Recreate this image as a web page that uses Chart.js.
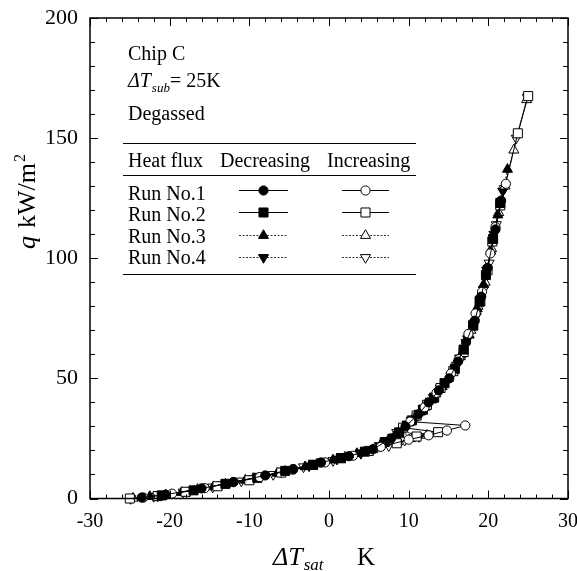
<!DOCTYPE html>
<html><head><meta charset="utf-8">
<script src="https://cdn.jsdelivr.net/npm/chart.js@4/dist/chart.umd.min.js"></script>
<style>html,body{margin:0;padding:0;background:#fff;}canvas{display:block;}</style>
</head><body>
<canvas id="c" width="577" height="571"></canvas>
<script>
// ---- tick labels ----
const xMajorTicks = [-30, -20, -10, 0, 10, 20, 30];
const yMajorTicks = [0, 50, 100, 150, 200];

// ---- series names ----
const runNames = ['Run No.1', 'Run No.2', 'Run No.3', 'Run No.4'];

// ---- Run No.1 decreasing (filled circle) ----
const run1DecX = [21.6, 20.9, 19.9, 19.1, 18.3, 17.2, 16.2, 15.1, 13.8, 12.5, 11.2, 9.6, 7.8, 5.5, 2.5, -1.0, -4.5, -8.0, -12.0, -16.0, -20.5, -23.5];
const run1DecY = [124, 112, 96, 84, 74, 65, 57, 50, 45, 40, 35, 30, 25, 20.5, 17.6, 15.0, 12.3, 9.6, 6.8, 4.2, 1.6, 0.4];
// ---- Run No.2 decreasing (filled square) ----
const run2DecX = [21.5, 20.6, 19.7, 18.9, 18.1, 16.9, 15.8, 14.5, 13.2, 11.8, 10.4, 8.8, 7.0, 4.5, 1.5, -2.0, -5.5, -9.0, -13.0, -17.0, -21.0];
const run2DecY = [123, 108, 93, 82, 72, 62, 54, 48, 42, 37, 32.5, 27.5, 23.5, 19.5, 16.8, 14.0, 11.5, 8.6, 6.1, 3.4, 1.3];
// ---- Run No.3 decreasing (filled triangle) ----
const run3DecX = [22.4, 21.2, 20.3, 19.4, 18.6, 17.6, 16.6, 15.5, 14.2, 12.9, 11.5, 10.0, 8.3, 6.5, 3.5, 0.5, -3.0, -6.5, -10.5, -14.5, -18.5, -22.5];
const run3DecY = [137, 118, 103, 89, 79, 68, 60, 52.5, 46.5, 41, 36, 31.5, 26.5, 22.5, 18.7, 16.0, 13.2, 10.5, 7.6, 4.9, 2.5, 0.8];
// ---- Run No.4 decreasing (filled inverted triangle) ----
const run4DecX = [21.8, 20.7, 19.8, 19.0, 18.2, 17.4, 16.4, 15.3, 14.0, 12.7, 11.3, 9.8, 8.0, 7.2, 6.3, 4.0, 1.0, -2.5, -6.0, -9.5, -13.5, -17.5, -21.5];
const run4DecY = [128, 110, 95, 83, 73, 66.5, 58.5, 51, 46, 40.5, 35.5, 31, 25.5, 24, 22, 19, 16.4, 13.6, 11.0, 8.3, 5.7, 3.1, 1.1];

// ---- Run No.1 increasing (open circle) ----
const run1IncX = [-23.3, -19.7, -15.6, -12.0, -8.7, -4.5, -0.5, 3.0, 6.5, 10.0, 12.5, 14.8, 17.1, 10.2, 12.0, 13.5, 15.3, 16.3, 17.5, 18.4, 19.2, 20.25, 20.9, 22.2];
const run1IncY = [0.4, 2.0, 4.3, 6.9, 8.9, 12.0, 15.0, 17.8, 21.5, 24.5, 26.3, 28.3, 30.4, 32, 38, 44, 52, 58, 68.5, 77, 86, 102, 113, 131];
// ---- Run No.2 increasing (open square) ----
const run2IncX = [-25.0, -21.5, -18.0, -14.0, -10.0, -6.0, -2.0, 1.5, 5.0, 8.5, 11.0, 13.7, 9.3, 11.0, 12.3, 14.0, 15.6, 16.9, 18.1, 19.0, 19.9, 20.5, 21.5, 23.7, 25.0];
const run2IncY = [0.0, 1.0, 2.8, 5.1, 7.6, 10.8, 14.0, 16.8, 19.8, 23.0, 25.8, 27.6, 29.5, 34.5, 39, 46, 53, 61, 72, 82, 95, 107, 122, 152, 167.5];
// ---- Run No.3 increasing (open triangle) ----
const run3IncX = [-24.6, -20.5, -16.5, -13.0, -9.5, -5.5, -1.5, 2.0, 5.5, 8.6, 10.25, 12.3, 8.8, 10.6, 12.1, 13.4, 15.0, 16.5, 17.8, 18.7, 19.6, 20.4, 21.3, 22.1, 23.2, 24.8];
const run3IncY = [0.1, 1.5, 3.8, 6.0, 8.3, 11.3, 14.4, 17.2, 20.3, 23.5, 24.9, 26.3, 28, 33.5, 38, 43.5, 50, 59, 70, 80, 90, 104, 119, 130, 145, 166];
// ---- Run No.4 increasing (open inverted triangle) ----
const run4IncX = [-24.9, -22.0, -18.3, -14.6, -11.0, -7.0, -3.2, 0.5, 4.0, 7.5, 9.5, 11.3, 8.5, 10.3, 11.8, 13.1, 14.6, 16.0, 17.2, 18.5, 19.4, 20.1, 21.0, 22.0, 23.5, 24.9];
const run4IncY = [0.0, 0.9, 2.7, 4.8, 7.3, 10.0, 13.2, 15.8, 18.8, 22.0, 24.3, 25.8, 27.5, 32.5, 37, 42, 48, 55.5, 65, 76, 87, 98, 114, 129, 150, 167];

const FONT = '"Liberation Serif", "Times New Roman", serif';
const styles = [
  {shape: 'circle', rot: 0, r: 4.6, dash: []},
  {shape: 'rect', rot: 0, r: 6.4, dash: []},
  {shape: 'triangle', rot: 0, r: 5.8, dash: [2, 1.5]},
  {shape: 'triangle', rot: 180, r: 5.8, dash: [2, 1.5]}
];
const decX = [run1DecX, run2DecX, run3DecX, run4DecX];
const decY = [run1DecY, run2DecY, run3DecY, run4DecY];
const incX = [run1IncX, run2IncX, run3IncX, run4IncX];
const incY = [run1IncY, run2IncY, run3IncY, run4IncY];

function toPts(xs, ys) { return xs.map((x, i) => ({x: x, y: ys[i]})); }

const datasets = [];
for (let i = 0; i < 4; i++) {
  const s = styles[i];
  [['Decreasing', decX[i], decY[i], '#000'], ['Increasing', incX[i], incY[i], '#fff']].forEach(([kind, xs, ys, fill]) => {
    datasets.push({
      label: runNames[i] + ' ' + kind,
      data: toPts(xs, ys),
      showLine: true,
      borderColor: i < 2 ? '#000' : '#333',
      borderWidth: 1,
      borderDash: s.dash,
      pointStyle: s.shape,
      pointRotation: s.rot,
      pointRadius: s.r,
      pointBackgroundColor: fill,
      pointBorderColor: '#000',
      pointBorderWidth: 1,
      clip: false
    });
  });
}

function marker(ctx, shape, rot, r, x, y, filled) {
  ctx.save();
  ctx.beginPath();
  if (shape === 'circle') {
    ctx.arc(x, y, r, 0, Math.PI * 2);
  } else if (shape === 'rect') {
    const s = Math.SQRT1_2 * r;
    ctx.rect(x - s, y - s, 2 * s, 2 * s);
  } else {
    let a = rot * Math.PI / 180;
    for (let k = 0; k < 3; k++) {
      const px = x + Math.sin(a) * r, py = y - Math.cos(a) * r;
      if (k === 0) ctx.moveTo(px, py); else ctx.lineTo(px, py);
      a += 2 * Math.PI / 3;
    }
    ctx.closePath();
  }
  ctx.fillStyle = filled ? '#000' : '#fff';
  ctx.fill();
  ctx.lineWidth = 1;
  ctx.strokeStyle = '#000';
  ctx.stroke();
  ctx.restore();
}

const decorPlugin = {
  id: 'decor',
  afterDraw(chart) {
    const ctx = chart.ctx;
    const a = chart.chartArea;
    const xs = chart.scales.x, ys = chart.scales.y;
    ctx.save();
    // frame
    ctx.strokeStyle = '#000';
    ctx.lineWidth = 1.5;
    ctx.strokeRect(a.left, a.top, a.right - a.left, a.bottom - a.top);
    // inward ticks
    ctx.lineWidth = 1;
    ctx.beginPath();
    xs.ticks.forEach(t => {
      const px = Math.round(xs.getPixelForValue(t.value)) + 0.5;
      const len = xMajorTicks.includes(t.value) ? 8 : 4;
      ctx.moveTo(px, a.bottom); ctx.lineTo(px, a.bottom - len);
      ctx.moveTo(px, a.top); ctx.lineTo(px, a.top + len);
    });
    ys.ticks.forEach(t => {
      const py = Math.round(ys.getPixelForValue(t.value)) + 0.5;
      const len = yMajorTicks.includes(t.value) ? 8 : 5;
      ctx.moveTo(a.left, py); ctx.lineTo(a.left + len, py);
      ctx.moveTo(a.right, py); ctx.lineTo(a.right - len, py);
    });
    ctx.stroke();

    // annotation text
    ctx.fillStyle = '#000';
    ctx.textAlign = 'left';
    ctx.textBaseline = 'alphabetic';
    const L = 128;
    ctx.font = '20px ' + FONT;
    ctx.fillText('Chip C', L, 60);
    ctx.font = 'italic 20px ' + FONT;
    ctx.fillText('\u0394T', L, 87);
    let w = ctx.measureText('\u0394T').width;
    ctx.font = 'italic 13px ' + FONT;
    ctx.fillText('sub', L + w + 1, 92);
    const w2 = ctx.measureText('sub').width;
    ctx.font = '20px ' + FONT;
    ctx.fillText('= 25K', L + w + 1 + w2, 87);
    ctx.fillText('Degassed', L, 120);

    // legend table
    ctx.lineWidth = 1;
    ctx.beginPath();
    [143.5, 175.5, 274.5].forEach(yy => { ctx.moveTo(123, yy); ctx.lineTo(416, yy); });
    ctx.stroke();
    ctx.fillText('Heat flux', L, 167);
    ctx.fillText('Decreasing', 220, 167);
    ctx.fillText('Increasing', 327, 167);
    const rowText = [200, 221, 243, 264];
    const rowMark = [190, 212, 235, 257];
    for (let i = 0; i < 4; i++) {
      ctx.fillText(runNames[i], L, rowText[i]);
      const s = styles[i];
      ctx.save();
      ctx.strokeStyle = i < 2 ? '#000' : '#333';
      ctx.setLineDash(s.dash);
      ctx.beginPath();
      ctx.moveTo(239, rowMark[i] + 0.5); ctx.lineTo(288, rowMark[i] + 0.5);
      ctx.moveTo(342, rowMark[i] + 0.5); ctx.lineTo(389, rowMark[i] + 0.5);
      ctx.stroke();
      ctx.restore();
      marker(ctx, s.shape, s.rot, s.r, 263.5, rowMark[i] + 0.5, true);
      marker(ctx, s.shape, s.rot, s.r, 365.5, rowMark[i] + 0.5, false);
    }

    // x axis title
    ctx.font = 'italic 26px ' + FONT;
    ctx.fillText('\u0394T', 273, 565);
    w = ctx.measureText('\u0394T').width;
    ctx.font = 'italic 17px ' + FONT;
    ctx.fillText('sat', 273 + w + 1, 570);
    ctx.font = '25px ' + FONT;
    ctx.fillText('K', 357, 565);

    // y axis title (rotated)
    ctx.save();
    ctx.translate(35, 249);
    ctx.rotate(-Math.PI / 2);
    ctx.font = 'italic 26px ' + FONT;
    ctx.fillText('q', 0, 0);
    ctx.font = '26px ' + FONT;
    ctx.fillText('kW/m', 21, 0);
    const w3 = ctx.measureText('kW/m').width;
    ctx.font = '16px ' + FONT;
    ctx.fillText('2', 21 + w3 + 1, -10);
    ctx.restore();

    ctx.restore();
  }
};

new Chart(document.getElementById('c'), {
  type: 'scatter',
  data: {datasets: datasets},
  options: {
    responsive: false,
    devicePixelRatio: 1,
    animation: false,
    layout: {padding: {top: 18, right: 9, left: 0, bottom: 0}},
    plugins: {legend: {display: false}, tooltip: {enabled: false}},
    scales: {
      x: {
        type: 'linear', min: -30, max: 30,
        grid: {display: false, drawTicks: false},
        border: {display: false},
        ticks: {
          stepSize: 2, autoSkip: false, maxRotation: 0, padding: 11,
          color: '#000', font: {family: FONT, size: 20},
          callback: v => (xMajorTicks.includes(v) ? String(v) : '')
        },
        afterFit: s => { s.height = 72.5; s.paddingLeft = 0; s.paddingRight = 0; }
      },
      y: {
        type: 'linear', min: 0, max: 200,
        grid: {display: false, drawTicks: false},
        border: {display: false},
        ticks: {
          stepSize: 10, autoSkip: false, padding: 12,
          color: '#000', font: {family: FONT, size: 22},
          callback: v => (yMajorTicks.includes(v) ? String(v) : '')
        },
        afterFit: s => { s.width = 90; s.paddingTop = 0; s.paddingBottom = 0; }
      }
    }
  },
  plugins: [decorPlugin]
});
</script>
</body></html>
